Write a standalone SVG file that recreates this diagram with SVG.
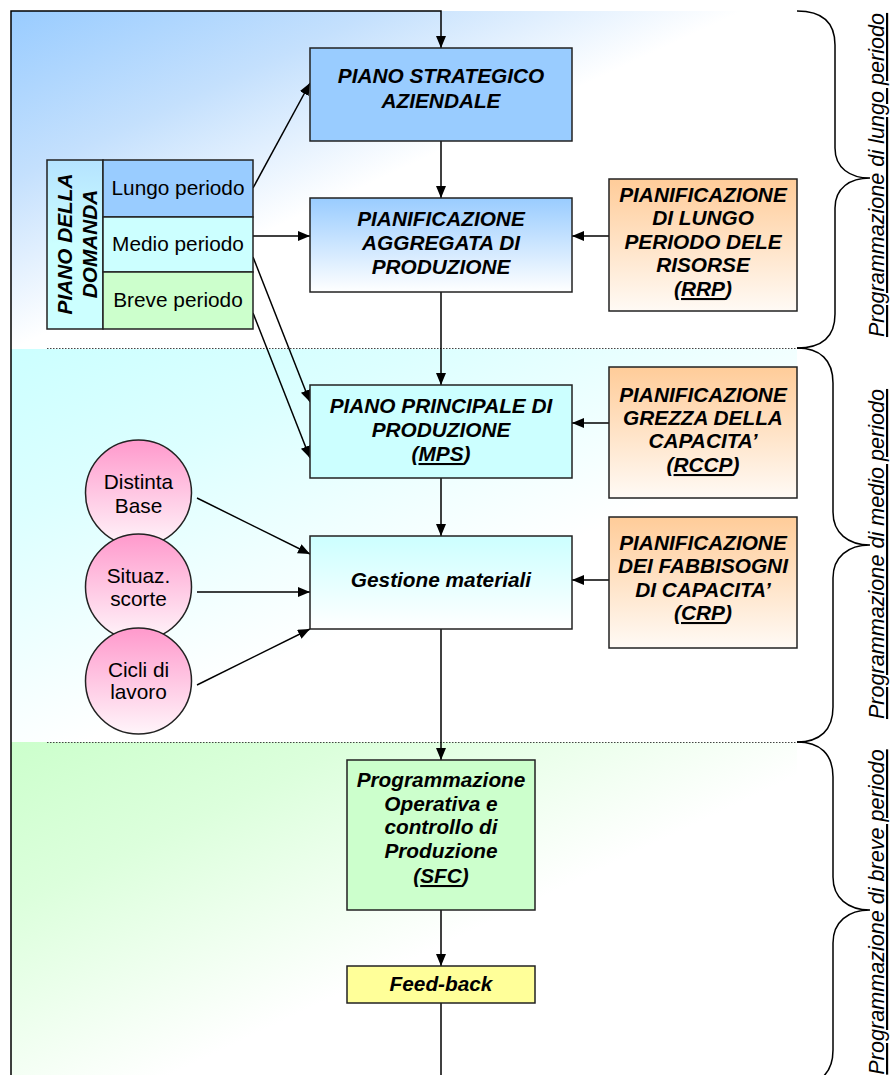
<svg xmlns="http://www.w3.org/2000/svg" width="893" height="1075" viewBox="0 0 893 1075">
<style>
.t{font-family:"Liberation Sans",Arial,sans-serif;font-size:20.8px;fill:#000;text-anchor:middle}
.b{font-weight:bold;font-style:italic}
.lab{font-size:21.6px;font-style:italic;text-decoration:underline}
.box{stroke:#222;stroke-width:1.5}
.ln{stroke:#000;stroke-width:1.5;fill:none}
.u{text-decoration:underline}
.dot{stroke:#444;stroke-width:1;stroke-dasharray:1.5 1.5}
.br{stroke:#000;stroke-width:1.5;fill:none}
</style>
<defs>
<linearGradient id="bg1" gradientUnits="userSpaceOnUse" x1="11" y1="11" x2="140" y2="290"><stop offset="0" stop-color="#99ccff"/><stop offset="0.5" stop-color="#c4e0fd"/><stop offset="1" stop-color="#ffffff"/></linearGradient>
<linearGradient id="bg2" gradientUnits="userSpaceOnUse" x1="11" y1="349" x2="160" y2="710"><stop offset="0" stop-color="#ccffff"/><stop offset="0.4" stop-color="#dcffff"/><stop offset="1" stop-color="#ffffff"/></linearGradient>
<linearGradient id="bg3" gradientUnits="userSpaceOnUse" x1="11" y1="742" x2="170" y2="1075"><stop offset="0" stop-color="#ccffcc"/><stop offset="0.4" stop-color="#dcffdc"/><stop offset="1" stop-color="#ffffff"/></linearGradient>
<linearGradient id="gBlue" x1="0" y1="0" x2="0" y2="1"><stop offset="0" stop-color="#99ccff"/><stop offset="1" stop-color="#ffffff"/></linearGradient>
<linearGradient id="gCyan" x1="0" y1="0" x2="0" y2="1"><stop offset="0" stop-color="#ccffff"/><stop offset="1" stop-color="#ffffff"/></linearGradient>
<linearGradient id="gOr" x1="0" y1="0" x2="0" y2="1"><stop offset="0" stop-color="#ffcc99"/><stop offset="1" stop-color="#fffaf5"/></linearGradient>
<linearGradient id="gPink" x1="0" y1="0" x2="0" y2="1"><stop offset="0" stop-color="#ff99cc"/><stop offset="1" stop-color="#fff5fa"/></linearGradient>
<linearGradient id="gDom" x1="0" y1="0" x2="0" y2="1"><stop offset="0" stop-color="#b5e3ff"/><stop offset="0.5" stop-color="#ccffff"/><stop offset="1" stop-color="#ccffff"/></linearGradient>
<marker id="ah" markerUnits="userSpaceOnUse" markerWidth="13" markerHeight="11" refX="12" refY="5" orient="auto"><path d="M0,0 L12,5 L0,10 z" fill="#000"/></marker>
</defs>

<g id="background">
<rect x="11" y="11" width="786" height="338" fill="url(#bg1)"/>
<rect x="11" y="349" width="786" height="393" fill="url(#bg2)"/>
<rect x="11" y="742" width="786" height="333" fill="url(#bg3)"/>
<line class="dot" x1="47" y1="348.5" x2="800" y2="348.5"/>
<line class="dot" x1="47" y1="742.5" x2="800" y2="742.5"/>
</g>

<g id="connectors">
<path class="ln" d="M11,1075 L11,11 L441,11 L441,48" stroke="#333" marker-end="url(#ah)"/>
<line class="ln" x1="441" y1="141" x2="441" y2="198" marker-end="url(#ah)"/>
<line class="ln" x1="441" y1="292" x2="441" y2="385" marker-end="url(#ah)"/>
<line class="ln" x1="441" y1="478" x2="441" y2="536" marker-end="url(#ah)"/>
<line class="ln" x1="441" y1="629" x2="441" y2="760" marker-end="url(#ah)"/>
<line class="ln" x1="441" y1="910" x2="441" y2="966" marker-end="url(#ah)"/>
<line class="ln" x1="441" y1="1003" x2="441" y2="1075"/>
<line class="ln" x1="253" y1="188" x2="310" y2="83" marker-end="url(#ah)"/>
<line class="ln" x1="253" y1="236" x2="310" y2="236" marker-end="url(#ah)"/>
<line class="ln" x1="253" y1="257" x2="310" y2="402" marker-end="url(#ah)"/>
<line class="ln" x1="253" y1="313" x2="310" y2="458" marker-end="url(#ah)"/>
<line class="ln" x1="609" y1="236" x2="572" y2="236" marker-end="url(#ah)"/>
<line class="ln" x1="609" y1="423" x2="572" y2="423" marker-end="url(#ah)"/>
<line class="ln" x1="609" y1="580" x2="572" y2="580" marker-end="url(#ah)"/>
<line class="ln" x1="197" y1="498" x2="310" y2="554" marker-end="url(#ah)"/>
<line class="ln" x1="197" y1="592" x2="310" y2="592" marker-end="url(#ah)"/>
<line class="ln" x1="197" y1="685" x2="310" y2="629" marker-end="url(#ah)"/>
</g>

<g id="n-strategico">
<rect class="box" x="310" y="48" width="262" height="93" fill="#99ccff"/>
<text class="t b" x="441" y="83">PIANO STRATEGICO</text>
<text class="t b" x="441" y="108">AZIENDALE</text>
</g>

<g id="n-aggregata">
<rect class="box" x="310" y="198" width="262" height="94" fill="url(#gBlue)"/>
<text class="t b" x="441" y="226">PIANIFICAZIONE</text>
<text class="t b" x="441" y="250">AGGREGATA DI</text>
<text class="t b" x="441" y="274">PRODUZIONE</text>
</g>

<g id="n-mps">
<rect class="box" x="310" y="385" width="262" height="93" fill="#ccffff"/>
<text class="t b" x="441" y="413">PIANO PRINCIPALE DI</text>
<text class="t b" x="441" y="437">PRODUZIONE</text>
<text class="t b" x="441" y="461">(<tspan class="u">MPS</tspan>)</text>
</g>

<g id="n-gestione">
<rect class="box" x="310" y="536" width="262" height="93" fill="url(#gCyan)"/>
<text class="t b" x="441" y="587">Gestione materiali</text>
</g>

<g id="n-rrp">
<rect class="box" x="609" y="179" width="188" height="132" fill="url(#gOr)"/>
<text class="t b" x="703" y="202">PIANIFICAZIONE</text>
<text class="t b" x="703" y="225">DI LUNGO</text>
<text class="t b" x="703" y="249">PERIODO DELE</text>
<text class="t b" x="703" y="272">RISORSE</text>
<text class="t b" x="703" y="296">(<tspan class="u">RRP</tspan>)</text>
</g>

<g id="n-rccp">
<rect class="box" x="609" y="367" width="188" height="131" fill="url(#gOr)"/>
<text class="t b" x="703" y="402">PIANIFICAZIONE</text>
<text class="t b" x="703" y="425">GREZZA DELLA</text>
<text class="t b" x="703" y="448">CAPACITA’</text>
<text class="t b" x="703" y="472">(<tspan class="u">RCCP</tspan>)</text>
</g>

<g id="n-crp">
<rect class="box" x="609" y="517" width="188" height="131" fill="url(#gOr)"/>
<text class="t b" x="703" y="550">PIANIFICAZIONE</text>
<text class="t b" x="703" y="573">DEI FABBISOGNI</text>
<text class="t b" x="703" y="597">DI CAPACITA’</text>
<text class="t b" x="703" y="620">(<tspan class="u">CRP</tspan>)</text>
</g>

<g id="n-domanda">
<rect class="box" x="47" y="160" width="56" height="169" fill="url(#gDom)"/>
<text class="t b" transform="translate(72,244) rotate(-90)">PIANO DELLA</text>
<text class="t b" transform="translate(97,244) rotate(-90)">DOMANDA</text>
<rect class="box" x="103" y="160" width="150" height="57" fill="#99ccff"/>
<text class="t" x="178" y="195">Lungo periodo</text>
<rect class="box" x="103" y="217" width="150" height="55" fill="#ccffff"/>
<text class="t" x="178" y="251">Medio periodo</text>
<rect class="box" x="103" y="272" width="150" height="57" fill="#ccffcc"/>
<text class="t" x="178" y="307">Breve periodo</text>
</g>

<g id="n-distinta">
<circle class="box" cx="138.5" cy="493" r="53" fill="url(#gPink)"/>
<text class="t" x="138.5" y="489">Distinta</text>
<text class="t" x="138.5" y="513">Base</text>
</g>
<g id="n-situaz">
<circle class="box" cx="138.5" cy="587" r="53" fill="url(#gPink)"/>
<text class="t" x="138.5" y="583">Situaz.</text>
<text class="t" x="138.5" y="606">scorte</text>
</g>
<g id="n-cicli">
<circle class="box" cx="138.5" cy="681" r="53" fill="url(#gPink)"/>
<text class="t" x="138.5" y="677">Cicli di</text>
<text class="t" x="138.5" y="699">lavoro</text>
</g>

<g id="n-sfc">
<rect class="box" x="347" y="760" width="188" height="150" fill="#ccffcc"/>
<text class="t b" x="441" y="787">Programmazione</text>
<text class="t b" x="441" y="811">Operativa e</text>
<text class="t b" x="441" y="834">controllo di</text>
<text class="t b" x="441" y="858">Produzione</text>
<text class="t b" x="441" y="883">(<tspan class="u">SFC</tspan>)</text>
</g>

<g id="n-feedback">
<rect class="box" x="347" y="966" width="188" height="37" fill="#ffff99"/>
<text class="t b" x="441" y="991">Feed-back</text>
</g>

<g id="braces">
<path class="br" d="M797,11 C822,11 835,22 835,45 L835,148 C835,168 850,178 870,178 C850,178 835,188 835,208 L835,314 C835,337 822,348 797,348"/>
<path class="br" d="M797,348 C820,348 833,360 833,383 L833,512 C833,533 848,545 870,545 C848,545 833,557 833,578 L833,707 C833,730 820,742 797,742"/>
<path class="br" d="M797,742 C820,742 833,754 833,777 L833,877 C833,898 848,910 870,910 C848,910 833,922 833,943 L833,1050 C833,1073 820,1085 797,1085"/>
</g>

<g id="labels">
<text class="t lab" transform="translate(884,175) rotate(-90)">Programmazione di lungo periodo</text>
<text class="t lab" transform="translate(884,554) rotate(-90)">Programmazione di medio periodo</text>
<text class="t lab" transform="translate(884,912) rotate(-90)">Programmazione di breve periodo</text>
</g>
</svg>
